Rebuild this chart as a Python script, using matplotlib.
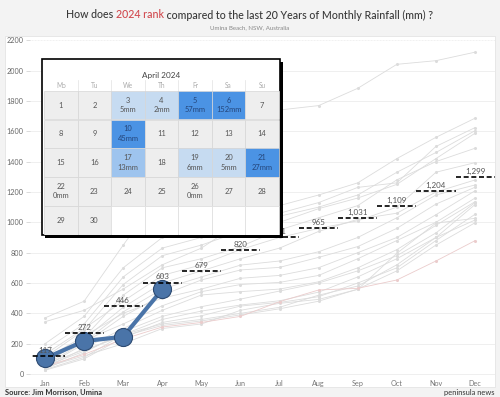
import matplotlib
matplotlib.use("Agg")
from matplotlib import pyplot as plt
from matplotlib.patches import Rectangle
import numpy as np

plt.rcParams['font.family'] = ['Lato', 'DejaVu Sans']

months = ['Jan', 'Feb', 'Mar', 'Apr', 'May', 'Jun', 'Jul', 'Aug', 'Sep', 'Oct', 'Nov', 'Dec']

# cumulative rainfall (mm) for past years
past_years = [
    [370, 480, 850, 1200, 1450, 1650, 1740, 1769, 1883, 2041, 2065, 2121],
    [345, 420, 560, 720, 830, 1000, 1110, 1180, 1260, 1420, 1560, 1686],
    [200, 380, 700, 900, 960, 1010, 1060, 1130, 1230, 1260, 1500, 1624],
    [160, 330, 640, 830, 900, 980, 1040, 1100, 1180, 1330, 1460, 1604],
    [110, 290, 590, 780, 850, 940, 1000, 1090, 1160, 1250, 1420, 1587],
    [90, 240, 520, 700, 760, 840, 950, 1030, 1110, 1280, 1400, 1488],
    [130, 300, 480, 650, 720, 820, 900, 960, 1010, 1100, 1330, 1393],
    [70, 230, 440, 600, 680, 760, 830, 940, 1020, 1060, 1200, 1279],
    [60, 210, 410, 560, 640, 718, 745, 806, 900, 1030, 1180, 1246],
    [50, 200, 380, 520, 620, 686, 703, 769, 840, 960, 1120, 1231],
    [100, 250, 400, 500, 560, 631, 650, 701, 800, 900, 1050, 1208],
    [80, 220, 330, 450, 543, 590, 604, 650, 760, 880, 1000, 1160],
    [40, 170, 300, 420, 521, 543, 560, 608, 700, 820, 980, 1136],
    [35, 140, 280, 380, 444, 494, 547, 600, 680, 780, 930, 1130],
    [30, 110, 260, 360, 415, 455, 483, 540, 640, 760, 900, 1117],
    [25, 100, 240, 340, 384, 448, 472, 510, 600, 700, 880, 1053],
    [45, 120, 200, 300, 330, 420, 466, 492, 558, 796, 995, 1026],
    [55, 150, 260, 330, 360, 400, 440, 520, 580, 720, 900, 1015],
    [65, 160, 250, 320, 350, 390, 430, 480, 560, 680, 850, 997],
]
pink_year = [50, 130, 230, 310, 340, 380, 477, 554, 565, 620, 745, 879]

avg = [117, 272, 446, 603, 679, 820, 901, 965, 1031, 1109, 1204, 1299]
y2024 = [103, 217, 246, 558]

# April 2024 daily rainfall (mm)
april_rain = {3: 5, 4: 2, 5: 57, 6: 152, 10: 45, 17: 13, 19: 6, 20: 5, 21: 27, 22: 0, 26: 0}
weekdays = ['Mo', 'Tu', 'We', 'Th', 'Fr', 'Sa', 'Su']

W, H = 500, 397
fig = plt.figure(figsize=(5, 3.97), dpi=100, facecolor='#f3f3f3')

# white chart panel
fig.patches.append(Rectangle((5 / W, 1 - 387 / H), 490 / W, 351 / H, transform=fig.transFigure,
                             fc='white', ec='#e4e4e4', lw=0.6, zorder=-1))

ax = fig.add_axes([30 / W, 1 - 378 / H, 465 / W, 341 / H])
ax.set_facecolor('none')
x = np.arange(12)

for yr in past_years:
    ax.plot(x, yr, color='#dcdcdc', lw=0.6, marker='o', ms=1.2, zorder=1)
ax.plot(x, pink_year, color='#ebcccc', lw=0.6, marker='o', ms=1.2, zorder=1)

ax.plot(np.arange(len(y2024)), y2024, color='#4a74a8', lw=3, marker='o', ms=13,
        mfc='#4a74a8', mec='#2c4a72', mew=0.8, zorder=3)

for i, v in enumerate(avg):
    ax.plot([i - 0.5, i + 0.5], [v, v], color='black', lw=1.2, ls=(0, (3, 1.6)), zorder=4)
    ax.annotate(f'{v:,}', (i, v), xytext=(0, 1.5), textcoords='offset points',
                ha='center', va='bottom', fontsize=5.8, color='#555555', zorder=4)

ax.set_xlim(-0.384, 11.51)
ax.set_ylim(-26, 2221)
ax.set_xticks(x)
ax.set_xticklabels(months)
ax.set_yticks(np.arange(0, 2201, 200))
ax.tick_params(axis='x', length=0, pad=1.5, labelsize=5.2, labelcolor='#777777')
ax.tick_params(axis='y', length=3, width=0.5, color='#cccccc', pad=1.5, labelsize=5.2,
               labelcolor='#666666')
for s in ax.spines.values():
    s.set_visible(False)
for gy in np.arange(0, 2201, 200):
    ax.axhline(gy, color='#ececec', lw=0.6, ls=(0, (1, 0.8)) if gy == 2200 else '-', zorder=0)

# calendar inset
cw, ch = 238, 176
ax_cal = fig.add_axes([42 / W, 1 - 235 / H, cw / W, ch / H], zorder=10)
ax_cal.set_xlim(0, cw)
ax_cal.set_ylim(ch, 0)
ax_cal.axis('off')
ax_cal.add_patch(Rectangle((3, 3), cw, ch, fc='black', ec='none', clip_on=False, zorder=0))
ax_cal.add_patch(Rectangle((0, 0), cw, ch, fc='white', ec='black', lw=1.2, clip_on=False, zorder=1))

col_x0, col_w = 2, 33.57
row_y0, row_h = 31.7, 28.8
ax_cal.text(cw / 2, 16.5, 'April 2024', ha='center', va='center', fontsize=5.9, color='#444444', zorder=3)
for c, wd in enumerate(weekdays):
    ax_cal.text(col_x0 + (c + 0.5) * col_w, 26.5, wd, ha='center', va='center', fontsize=4.7,
                color='#aaaaaa', zorder=3)
    if c > 0:
        ax_cal.plot([col_x0 + c * col_w] * 2, [21, row_y0], color='#e2e2e2', lw=0.5, zorder=2)


def cell_color(mm):
    if mm is None or mm == 0:
        return '#eeeeee'
    if mm <= 6:
        return '#c6dbf1'
    if mm <= 15:
        return '#9ec4ee'
    return '#4b93e4'


for r in range(5):
    for c in range(7):
        day = r * 7 + c + 1
        x0 = col_x0 + c * col_w
        y0 = row_y0 + r * row_h
        if day > 30:
            ax_cal.add_patch(Rectangle((x0, y0), col_w, row_h, fc='white', ec='#dddddd', lw=0.5, zorder=2))
            continue
        mm = april_rain.get(day)
        ax_cal.add_patch(Rectangle((x0, y0), col_w, row_h, fc=cell_color(mm), ec='#d6d6d6', lw=0.5, zorder=2))
        tc = '#24457a' if (mm is not None and mm > 15) else '#555555'
        cx, cy = x0 + col_w / 2, y0 + row_h / 2
        if mm is None:
            ax_cal.text(cx, cy, str(day), ha='center', va='center', fontsize=5.4, color=tc, zorder=3)
        else:
            ax_cal.text(cx, cy - 5, str(day), ha='center', va='center', fontsize=5.4, color=tc, zorder=3)
            ax_cal.text(cx, cy + 4.5, f'{mm}mm', ha='center', va='center', fontsize=5.4, color=tc, zorder=3)

# title with coloured part
parts = [('How does ', '#3a3a3a'), ('2024 rank', '#d1494e'),
         (' compared to the last 20 Years of Monthly Rainfall (mm) ?', '#3a3a3a')]
renderer = fig.canvas.get_renderer()
texts = [fig.text(0, 1 - 15 / H, s, color=col, fontsize=7.7, va='center', fontweight='medium')
         for s, col in parts]
widths = [t.get_window_extent(renderer).width / fig.bbox.width for t in texts]
xpos = 0.5 - sum(widths) / 2
for t, w in zip(texts, widths):
    t.set_x(xpos)
    xpos += w

fig.text(0.5, 1 - 28 / H, 'Umina Beach, NSW, Australia', ha='center', va='center', fontsize=4.4, color='#888888')
fig.text(5 / W, 1 - 392 / H, 'Source: Jim Morrison, Umina', ha='left', va='center', fontsize=5.4,
         color='#333333', fontweight='bold')
fig.text(495 / W, 1 - 392 / H, 'peninsula news', ha='right', va='center', fontsize=5.4, color='#333333')

fig.savefig('out.png', dpi=100, facecolor=fig.get_facecolor())
